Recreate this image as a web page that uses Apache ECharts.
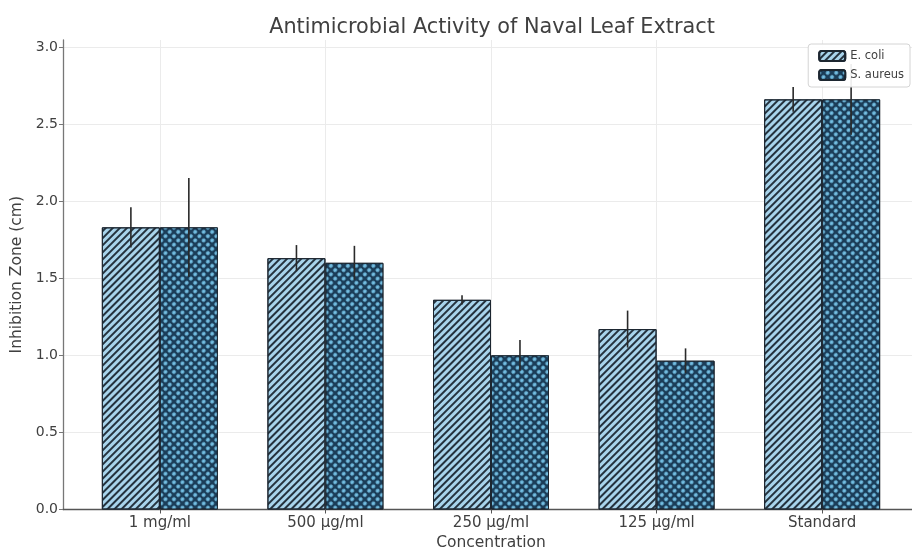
<!DOCTYPE html>
<html><head><meta charset="utf-8">
<script src="https://cdn.jsdelivr.net/npm/echarts@6/dist/echarts.min.js"></script>
<style>html,body{margin:0;padding:0;background:#fff}#c{width:912px;height:549px}</style>
</head><body><div id="c"></div>
<script>
const categories = ['1 mg/ml', '500 µg/ml', '250 µg/ml', '125 µg/ml', 'Standard'];
const ecoli = [1.83, 1.63, 1.36, 1.17, 2.66];
const ecoliErr = [0.13, 0.085, 0.03, 0.12, 0.08];
const saureus = [1.83, 1.60, 1.00, 0.965, 2.66];
const saureusErr = [0.32, 0.11, 0.10, 0.08, 0.23];
const yTicks = [0, 0.5, 1.0, 1.5, 2.0, 2.5, 3.0];
const xTicks = [0, 1, 2, 3, 4];

const FONT = 'DejaVu Sans';
const half = 0.175;
const errData = [];
categories.forEach((c, i) => {
  errData.push([i - half, ecoli[i] - ecoliErr[i], ecoli[i] + ecoliErr[i]]);
  errData.push([i + half, saureus[i] - saureusErr[i], saureus[i] + saureusErr[i]]);
});

const chart = echarts.init(document.getElementById('c'), null, {renderer: 'canvas'});
chart.setOption({
  animation: false,
  backgroundColor: '#fff',
  title: {
    text: 'Antimicrobial Activity of Naval Leaf Extract',
    left: 487, top: 12, textAlign: 'center',
    textStyle: {fontFamily: FONT, fontSize: 20.8, fontWeight: 'normal', color: '#404040'}
  },
  legend: {
    data: ['E. coli', 'S. aureus'],
    orient: 'vertical', right: 2, top: 44,
    itemWidth: 26, itemHeight: 10, itemGap: 7,
    padding: [6, 6, 6, 10],
    borderColor: '#d4d4d4', borderWidth: 1, borderRadius: 3,
    backgroundColor: 'rgba(255,255,255,0.92)',
    textStyle: {fontFamily: FONT, fontSize: 11.5, color: '#404040'}
  },
  grid: {left: 63, top: 40, width: 856, bottom: 39.5, containLabel: false, outerBoundsMode: 'none'},
  xAxis: {
    type: 'value', min: -0.585, max: 4.585,
    name: 'Concentration', nameLocation: 'middle', nameGap: 23,
    nameTextStyle: {fontFamily: FONT, fontSize: 15.5, color: '#404040'},
    axisLine: {show: true, lineStyle: {color: '#555', width: 1.3}},
    axisTick: {show: true, customValues: xTicks, length: 4, lineStyle: {color: '#555'}},
    axisLabel: {customValues: xTicks, formatter: v => categories[Math.round(v)],
      fontFamily: FONT, fontSize: 15, color: '#404040', margin: 6},
    splitLine: {show: true, lineStyle: {color: '#ebebeb', width: 1}}
  },
  yAxis: {
    type: 'value', min: 0, max: 3.045,
    name: 'Inhibition Zone (cm)', nameLocation: 'middle', nameGap: 38,
    nameTextStyle: {fontFamily: FONT, fontSize: 15.5, color: '#404040'},
    axisLine: {show: true, onZero: false, lineStyle: {color: '#777', width: 1.3}},
    axisTick: {show: true, customValues: yTicks, length: 4, lineStyle: {color: '#777'}},
    axisLabel: {customValues: yTicks, formatter: v => v.toFixed(1),
      fontFamily: FONT, fontSize: 14, color: '#404040', margin: 5},
    splitLine: {show: true, lineStyle: {color: '#ebebeb', width: 1}}
  },
  series: [
    {
      name: 'E. coli', type: 'bar', barWidth: 58, barGap: '0%',
      data: ecoli.map((v, i) => [i, v]),
      itemStyle: {
        color: '#a8d4ec', borderColor: '#1c2630', borderWidth: 1,
        decal: {symbol: 'rect', symbolSize: 1, color: '#24323e',
          dashArrayX: [1, 0], dashArrayY: [1.5, 2.9], rotation: -Math.PI / 4}
      }
    },
    {
      name: 'S. aureus', type: 'bar', barWidth: 58, barGap: '0%',
      data: saureus.map((v, i) => [i, v]),
      itemStyle: {
        color: '#1b3d58', borderColor: '#1c2630', borderWidth: 1,
        decal: {symbol: 'circle', symbolSize: 0.95, color: '#74bfe3',
          dashArrayX: [3.6, 1.1], dashArrayY: [3.6, 1.1], rotation: Math.PI / 4}
      }
    },
    {
      name: 'err', type: 'custom', z: 3,
      data: errData,
      renderItem: function (params, api) {
        const p1 = api.coord([api.value(0), api.value(1)]);
        const p2 = api.coord([api.value(0), api.value(2)]);
        return {type: 'line', shape: {x1: p1[0], y1: p1[1], x2: p2[0], y2: p2[1]},
          style: {stroke: '#2a2a2a', lineWidth: 1.6}};
      }
    }
  ]
});
</script></body></html>
